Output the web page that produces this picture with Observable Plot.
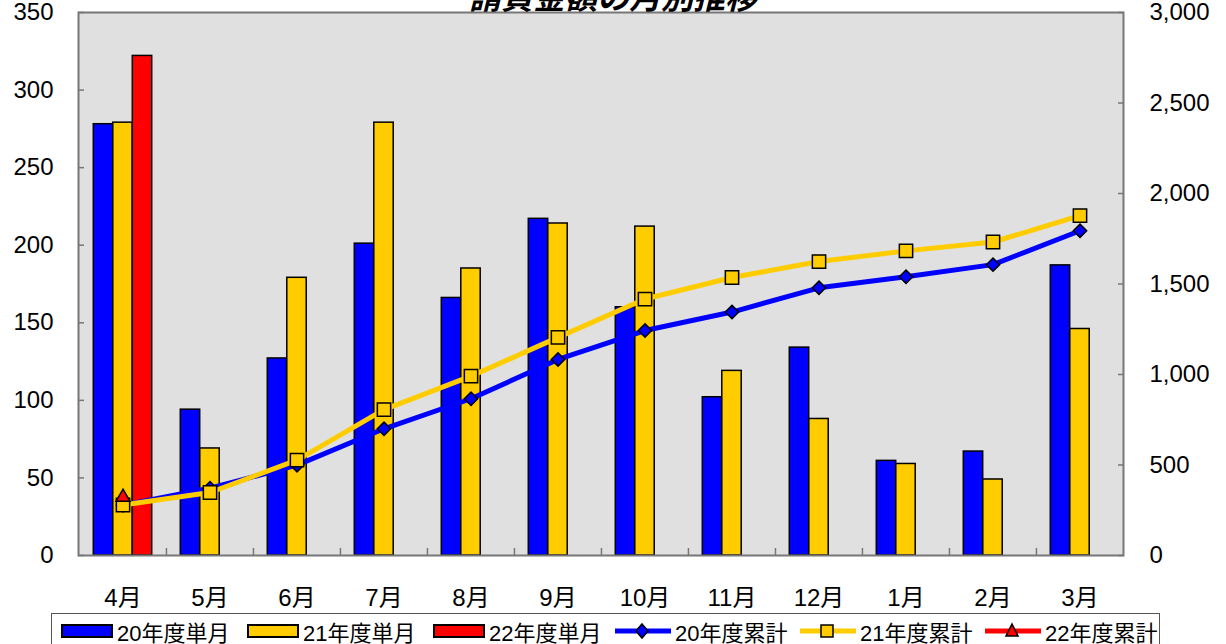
<!DOCTYPE html>
<html><head><meta charset="utf-8">
<script src="https://cdn.jsdelivr.net/npm/d3@7"></script>
<script src="https://cdn.jsdelivr.net/npm/@observablehq/plot@0.6"></script>
<style>
body{margin:0;background:#fff;overflow:hidden;}
#wrap{position:relative;width:1226px;height:644px;overflow:hidden;background:#fff;}
#chart{position:absolute;left:0;top:0;}
#title{position:absolute;left:0;width:1226px;text-align:center;top:-25px;font-family:"Noto Sans CJK JP";font-weight:bold;font-style:italic;font-size:32px;line-height:40px;color:#000;z-index:2;}
#legend{position:absolute;left:51px;top:613px;width:1109px;height:40px;border:1px solid #555;background:#fff;box-sizing:border-box;}
.item{position:absolute;top:4px;height:26px;display:flex;align-items:center;font-family:"Liberation Sans","Noto Sans CJK JP";font-size:22px;color:#000;white-space:nowrap;}
.item svg{margin-right:4px;}
</style>
</head><body>
<div id="wrap">
  <div id="chart"></div>
  <div id="title"></div>
  <div id="legend"></div>
</div>
<script>
const title = "請負金額の月別推移";
const months = ["4月","5月","6月","7月","8月","9月","10月","11月","12月","1月","2月","3月"];
const single20 = [278, 94, 127, 201, 166, 217, 160, 102, 134, 61, 67, 187];
const single21 = [279, 69, 179, 279, 185, 214, 212, 119, 88, 59, 49, 146];
const single22 = [322];
const cum20 = [278, 372, 499, 700, 866, 1083, 1243, 1345, 1479, 1540, 1607, 1794];
const cum21 = [279, 348, 527, 806, 991, 1205, 1417, 1536, 1624, 1683, 1732, 1878];
const cum22 = [322];
const leftTicks = [0, 50, 100, 150, 200, 250, 300, 350];
const rightTicks = [0, 500, 1000, 1500, 2000, 2500, 3000];
const seriesNames = ["20年度単月","21年度単月","22年度単月","20年度累計","21年度累計","22年度累計"];

const BLUE = "#0000ff", YELLOW = "#ffcc00", RED = "#ff0000";
const leftMax = 350, rightMax = 3000, k = leftMax / rightMax;

const toRows = arr => arr.map((v, i) => ({month: months[i], v}));
const r20 = toRows(single20), r21 = toRows(single21), r22 = toRows(single22);
const c20 = toRows(cum20), c21 = toRows(cum21), c22 = toRows(cum22);

const W = 1226, H = 613, mL = 78, mR = 103, mT = 12, mB = 58;
const bw = (W - mL - mR) / months.length;
const barW = 19.5;
const ins = (bw - barW) / 2;

const barOpts = (fill, dx) => ({x: "month", y: "v", fill, stroke: "#000", strokeWidth: 1.5, insetLeft: ins, insetRight: ins, dx});
const fmt = d3.format(",");

const chart = Plot.plot({
  width: W, height: H,
  marginTop: mT, marginBottom: mB, marginLeft: mL, marginRight: mR,
  style: {fontFamily: "'Liberation Sans','Noto Sans CJK JP',sans-serif", background: "transparent", color: "#000"},
  x: {type: "band", domain: months, padding: 0, axis: null},
  y: {domain: [0, leftMax], axis: null},
  marks: [
    Plot.frame({fill: "#e0e0e0"}),
    Plot.barY(r20, barOpts(BLUE, -barW)),
    Plot.barY(r21, barOpts(YELLOW, 0)),
    Plot.barY(r22, barOpts(RED, barW)),
    Plot.frame({stroke: "#777", strokeWidth: 2}),
    Plot.ruleX(months.slice(1), {x: d => d, dx: -bw / 2, y1: 0, y2: 4.5, stroke: "#777", strokeWidth: 1.5}),
    Plot.axisY(leftTicks, {anchor: "left", label: null, tickSize: -6, tickPadding: 31, stroke: "#777", strokeWidth: 1.5, fontSize: 24, fill: "#000"}),
    Plot.axisY(rightTicks.map(v => v * k), {anchor: "right", label: null, tickSize: -6, tickPadding: 32, stroke: "#777", strokeWidth: 1.5, fontSize: 24, fill: "#000", tickFormat: v => fmt(Math.round(v / k))}),
    Plot.axisX({anchor: "bottom", label: null, tickSize: 0, tickPadding: 33, fontSize: 24, fill: "#000", style: "letter-spacing:3px"}),
    Plot.line(c20, {x: "month", y: d => d.v * k, stroke: BLUE, strokeWidth: 5}),
    Plot.dot(c20, {x: "month", y: d => d.v * k, symbol: "diamond2", r: 6, fill: BLUE, stroke: "#000", strokeWidth: 1.5}),
    Plot.line(c21, {x: "month", y: d => d.v * k, stroke: YELLOW, strokeWidth: 5}),
    Plot.dot(c21, {x: "month", y: d => d.v * k, symbol: "square", r: 7.5, fill: YELLOW, stroke: "#000", strokeWidth: 1.5}),
    Plot.line(c22, {x: "month", y: d => d.v * k, stroke: RED, strokeWidth: 5}),
    Plot.dot(c22, {x: "month", y: d => d.v * k, symbol: "triangle", r: 5.2, fill: RED, stroke: "#000", strokeWidth: 1.5})
  ]
});
document.getElementById("chart").appendChild(chart);
document.getElementById("title").textContent = title;

// legend
const legend = document.getElementById("legend");
const legendLeft = [9, 195, 381, 563, 748, 933];
const colors = [BLUE, YELLOW, RED, BLUE, YELLOW, RED];
const shapes = ["diamond", "square", "triangle"];
seriesNames.forEach((name, i) => {
  const div = document.createElement("div");
  div.className = "item";
  div.style.left = legendLeft[i] + "px";
  let sw;
  if (i < 3) {
    sw = `<svg width="52" height="16"><rect x="1" y="2" width="50" height="12" fill="${colors[i]}" stroke="#000" stroke-width="2"/></svg>`;
  } else {
    const s = shapes[i - 3];
    let m = "";
    if (s === "diamond") m = `<path d="M27,2 L33,9 L27,16 L21,9 Z" fill="${colors[i]}" stroke="#000" stroke-width="1.5"/>`;
    else if (s === "square") m = `<rect x="21" y="3" width="12" height="12" fill="${colors[i]}" stroke="#000" stroke-width="1.5"/>`;
    else m = `<path d="M27,2 L33,14 L21,14 Z" fill="${colors[i]}" stroke="#000" stroke-width="1.5"/>`;
    sw = `<svg width="56" height="18"><line x1="0" y1="9" x2="56" y2="9" stroke="${colors[i]}" stroke-width="5"/>${m}</svg>`;
  }
  div.innerHTML = sw + `<span>${name}</span>`;
  legend.appendChild(div);
});
</script>
</body></html>
